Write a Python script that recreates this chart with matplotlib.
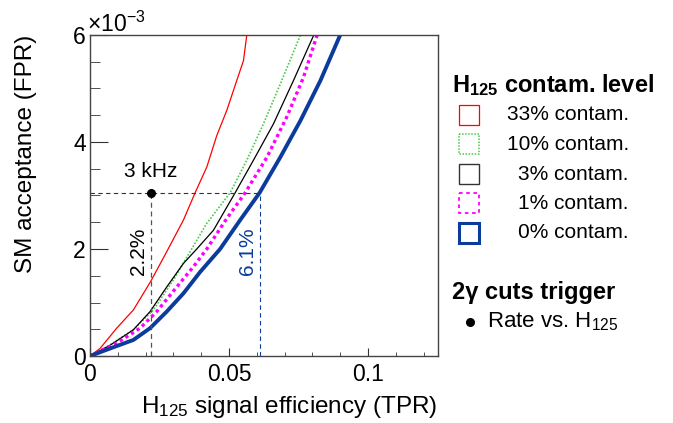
import matplotlib
matplotlib.use("Agg")
import matplotlib.pyplot as plt
from matplotlib.patches import Rectangle
from matplotlib.ticker import MultipleLocator, FuncFormatter

plt.rcParams['font.family'] = ['Liberation Sans', 'DejaVu Sans']
plt.rcParams['mathtext.fontset'] = 'custom'
plt.rcParams['mathtext.rm'] = 'Liberation Sans'
plt.rcParams['mathtext.it'] = 'Liberation Sans:italic'
plt.rcParams['mathtext.bf'] = 'Liberation Sans:bold'

# ROC curves (TPR, FPR in units of 1e-3)
tpr_33 = [0, 0.0036, 0.0096, 0.0156, 0.0219, 0.0276, 0.0336, 0.0378, 0.042, 0.0456, 0.0492, 0.0528, 0.0552, 0.0564]
fpr_33 = [0, 0.14, 0.52, 0.86, 1.40, 1.95, 2.54, 3.05, 3.53, 4.12, 4.59, 5.15, 5.52, 6.0]

tpr_10 = [0, 0.006, 0.0156, 0.0228, 0.030, 0.036, 0.042, 0.0504, 0.0564, 0.0624, 0.0685, 0.0757]
fpr_10 = [0, 0.17, 0.49, 0.86, 1.42, 1.95, 2.48, 3.05, 3.66, 4.34, 5.09, 6.0]

tpr_3 = [0, 0.0072, 0.0156, 0.0216, 0.0276, 0.0336, 0.0384, 0.0444, 0.0522, 0.0588, 0.066, 0.0732, 0.0805]
fpr_3 = [0, 0.20, 0.49, 0.83, 1.29, 1.73, 2.0, 2.35, 3.05, 3.66, 4.34, 5.15, 6.0]

tpr_1 = [0, 0.0096, 0.018, 0.024, 0.0312, 0.0372, 0.042, 0.0492, 0.0558, 0.0637, 0.0708, 0.0768, 0.0817]
fpr_1 = [0, 0.24, 0.52, 0.83, 1.29, 1.67, 2.0, 2.57, 3.05, 3.72, 4.47, 5.21, 6.0]

tpr_0 = [0, 0.0072, 0.0156, 0.0216, 0.0276, 0.0336, 0.0396, 0.0468, 0.054, 0.061, 0.0685, 0.0757, 0.0829, 0.090]
fpr_0 = [0, 0.14, 0.30, 0.52, 0.83, 1.17, 1.57, 2.0, 2.54, 3.05, 3.72, 4.40, 5.15, 6.0]

rate_fpr = 3.05      # 3 kHz working point
rate_tpr = 0.022     # 2.2 %
best_tpr = 0.061     # 6.1 %

blue = '#0b3c9b'
green = '#4cc94c'

fig = plt.figure(figsize=(6.73, 4.23), dpi=100)
ax = fig.add_axes([90/673, 67/423, 347.5/673, 321/423])

ax.plot(tpr_33, fpr_33, color='red', lw=0.9)
ax.plot(tpr_10, fpr_10, color=green, lw=1.2, ls=(0, (1, 1)))
ax.plot(tpr_3, fpr_3, color='black', lw=0.9)
ax.plot(tpr_1, fpr_1, color='#ff00ff', lw=2.4, ls=(0, (1, 1)))
ax.plot(tpr_0, fpr_0, color=blue, lw=2.8)

ax.plot([0, best_tpr], [rate_fpr, rate_fpr], color='#333333', lw=0.8, ls=(0, (4, 3)))
ax.plot([rate_tpr, rate_tpr], [0, rate_fpr], color='#555555', lw=0.9, ls=(0, (4, 3)))
ax.plot([best_tpr, best_tpr], [0, rate_fpr], color=blue, lw=0.8, ls=(0, (4, 3)))
ax.plot([rate_tpr], [rate_fpr], 'o', color='black', ms=5.5)
ax.text(rate_tpr, rate_fpr + 0.22, '3 kHz', ha='center', va='bottom', fontsize=15)
ax.text(rate_tpr - 0.0010, 1.95, '2.2%', rotation=90, ha='right', va='center', fontsize=15)
ax.text(best_tpr - 0.0010, 1.95, '6.1%', rotation=90, ha='right', va='center', fontsize=15, color=blue)

ax.set_xlim(0, 0.125)
ax.set_ylim(0, 6)
ax.xaxis.set_major_locator(MultipleLocator(0.05))
ax.xaxis.set_minor_locator(MultipleLocator(0.01))
ax.yaxis.set_major_locator(MultipleLocator(2))
ax.yaxis.set_minor_locator(MultipleLocator(0.5))
ax.xaxis.set_major_formatter(FuncFormatter(lambda v, p: '0' if v == 0 else ('%g' % v)))
ax.tick_params(axis='both', which='both', direction='in', labelsize=16.5, color='#333333')
ax.tick_params(axis='x', which='major', length=6, pad=5)
ax.tick_params(axis='x', which='minor', length=3)
ax.tick_params(axis='y', which='major', length=13, pad=3)
ax.tick_params(axis='y', which='minor', length=7)
for s in ax.spines.values():
    s.set_color('#444444')
    s.set_linewidth(1.0)

ax.set_xlabel('H$_{125}$ signal efficiency (TPR)', fontsize=17.5, loc='right', labelpad=6)
ax.set_ylabel('SM acceptance (FPR)', fontsize=17.5, loc='top', labelpad=26)
fig.text(87/673, 1 - 32/423, r'$\times$10$^{-3}$', fontsize=16.5, ha='left', va='baseline')

# legend drawn in pixel coordinates
lax = fig.add_axes([0, 0, 1, 1])
lax.set_xlim(0, 673)
lax.set_ylim(423, 0)
lax.axis('off')

lax.text(452, 85, r'$\mathbf{H}_{\mathbf{125}}$ contam. level', fontsize=17,
         fontweight='bold', ha='left', va='center')
entries = [('33% contam.', 'red', 0.9, '-'),
           ('10% contam.', green, 1.1, (0, (1, 1))),
           ('3% contam.', '#333333', 1.0, '-'),
           ('1% contam.', '#ff00ff', 1.3, (0, (2, 2))),
           ('0% contam.', blue, 2.2, '-')]
for i, (lab, col, lw, ls) in enumerate(entries):
    y = 115 + i * 29.5
    lax.add_patch(Rectangle((458.5, y - 10), 20.5, 20, fill=False, edgecolor=col, lw=lw, ls=ls))
    lax.text(629, y, lab, fontsize=15, ha='right', va='center')

lax.text(452, 293, '2γ cuts trigger', fontsize=17, fontweight='bold', ha='left', va='center')
lax.plot([469.5], [322], 'o', color='black', ms=5.5)
lax.text(487, 322, 'Rate vs. H$_{125}$', fontsize=16, ha='left', va='center')

fig.savefig('out.png', dpi=100)
